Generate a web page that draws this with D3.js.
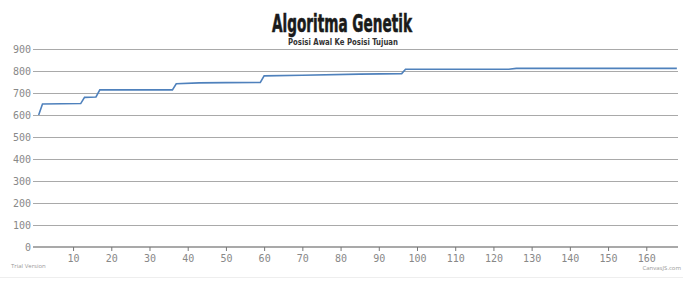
<!DOCTYPE html>
<html lang="en">
<head>
  <meta charset="utf-8">
  <title>Algoritma Genetik</title>
  <style>
    body { margin: 0; background: #fff; font-family: "DejaVu Sans Mono", monospace; }
    .grid line { stroke: #a9a9a9; stroke-width: 1.2px; }
    .tick text { fill: #888; font-size: 10px; font-family: "DejaVu Sans Mono", monospace; }
  </style>
</head>
<body>
  <svg id="chart"></svg>

  <script src="https://d3js.org/d3.v7.min.js"></script>
  <script>
    // generation -> best fitness (breakpoints)
    const generation = [1, 2, 12, 13, 16, 17, 36, 37, 43, 50, 59, 60, 70, 85, 96, 97, 124, 126, 168];
    const fitness    = [600, 650, 652, 680, 682, 714, 714, 742, 746, 747, 748, 778, 781, 786, 788, 808, 808, 812, 812];

    const xTicks = [10, 20, 30, 40, 50, 60, 70, 80, 90, 100, 110, 120, 130, 140, 150, 160];
    const yTicks = [0, 100, 200, 300, 400, 500, 600, 700, 800, 900];

    const width = 683;
    const height = 292;

    const svg = d3.select("#chart")
      .attr("width", width)
      .attr("height", height);

    const x = d3.scaleLinear().domain([0.3, 168.3]).range([36, 678]);
    const y = d3.scaleLinear().domain([0, 900]).range([247, 49]);

    // title
    svg.append("text")
      .attr("x", 342).attr("y", 32)
      .attr("text-anchor", "middle")
      .attr("font-family", "'Liberation Sans Narrow', 'DejaVu Sans Condensed', sans-serif")
      .attr("font-weight", "bold")
      .attr("font-size", 25)
      .attr("fill", "#1a1a1a")
      .attr("stroke", "#1a1a1a")
      .attr("stroke-width", 0.6)
      .attr("textLength", 140)
      .attr("lengthAdjust", "spacingAndGlyphs")
      .text("Algoritma Genetik");

    svg.append("text")
      .attr("x", 343).attr("y", 45)
      .attr("text-anchor", "middle")
      .attr("font-family", "'Liberation Sans Narrow', 'DejaVu Sans Condensed', sans-serif")
      .attr("font-weight", "bold")
      .attr("font-size", 9)
      .attr("fill", "#333")
      .attr("textLength", 110)
      .attr("lengthAdjust", "spacingAndGlyphs")
      .text("Posisi Awal Ke Posisi Tujuan");

    // horizontal grid with y labels
    const yAxis = svg.append("g")
      .attr("class", "grid")
      .attr("transform", "translate(36,0)")
      .call(d3.axisLeft(y).tickValues(yTicks).tickSize(-642).tickSizeOuter(0).tickPadding(5));
    yAxis.select(".domain").remove();
    yAxis.selectAll(".tick line").attr("x1", -3);
    yAxis.selectAll(".tick").filter(d => d === 0).select("line").remove();

    // x axis
    const xAxis = svg.append("g")
      .attr("transform", "translate(0,247)")
      .call(d3.axisBottom(x).tickValues(xTicks).tickSize(4).tickSizeOuter(0).tickPadding(4));
    xAxis.select(".domain").attr("stroke", "#555").attr("stroke-width", 1.2)
      .attr("d", "M33,0H678");
    xAxis.selectAll(".tick line").attr("stroke", "#777");

    // series
    const line = d3.line()
      .x((d, i) => x(generation[i]))
      .y(d => y(d));

    svg.append("path")
      .datum(fitness)
      .attr("fill", "none")
      .attr("stroke", "#4f81bc")
      .attr("stroke-width", 1.6)
      .attr("d", line);

    // watermarks
    svg.append("text")
      .attr("x", 11).attr("y", 268)
      .attr("font-family", "'Open Sans', sans-serif")
      .attr("font-size", 6)
      .attr("fill", "#999")
      .text("Trial Version");

    svg.append("text")
      .attr("x", 681).attr("y", 270)
      .attr("text-anchor", "end")
      .attr("font-family", "'Open Sans', sans-serif")
      .attr("font-size", 6)
      .attr("fill", "#999")
      .text("CanvasJS.com");

    svg.append("line")
      .attr("x1", 0).attr("x2", width)
      .attr("y1", 277.5).attr("y2", 277.5)
      .attr("stroke", "#eee");
  </script>
</body>
</html>
